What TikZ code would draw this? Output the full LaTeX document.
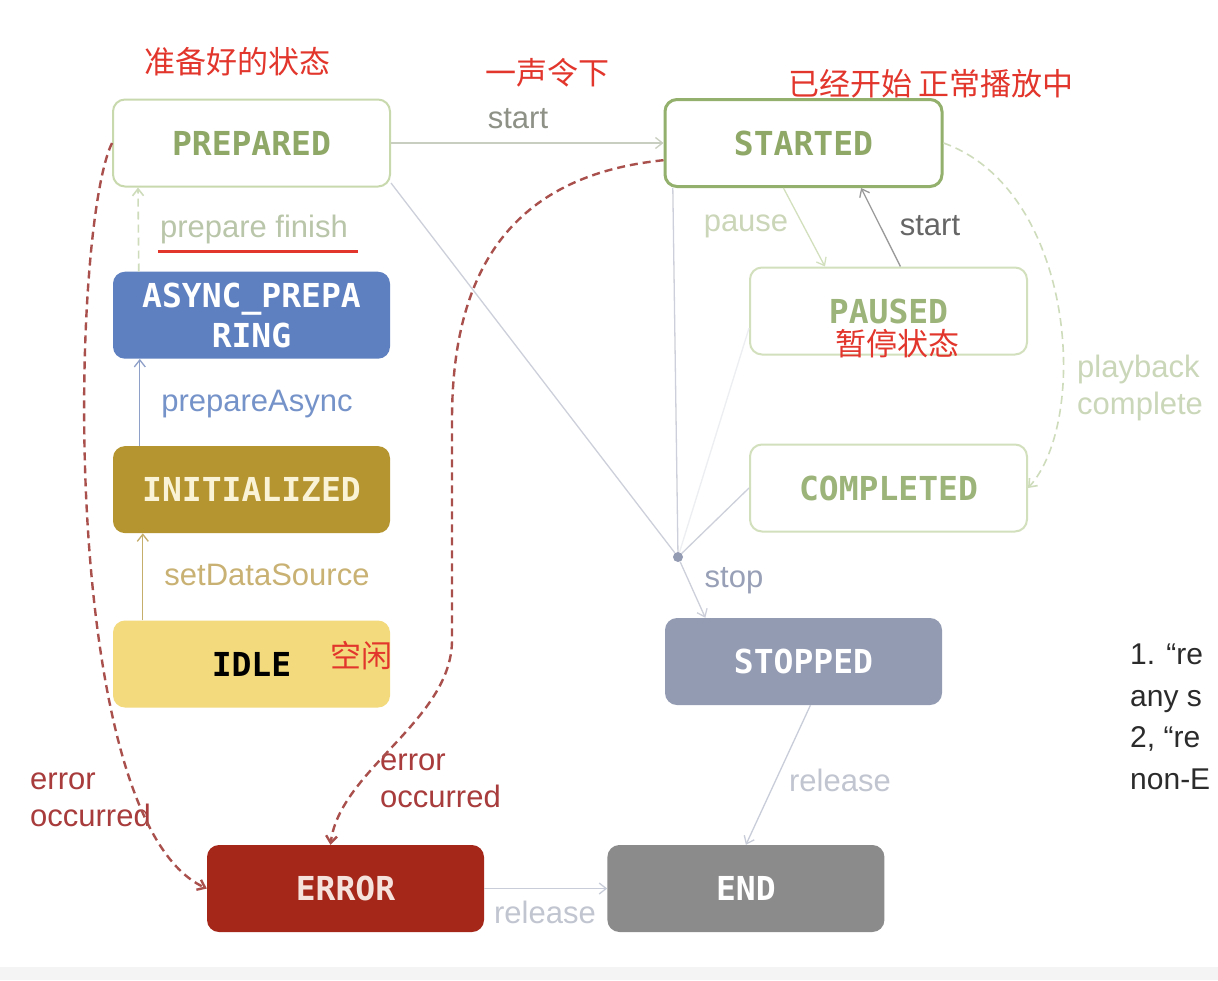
\documentclass[tikz,border=0pt]{standalone}
\usepackage{fontspec}
\usepackage{xcolor}
\usepackage{tikz}
\usetikzlibrary{arrows.meta,positioning}
\setmainfont{Liberation Sans}
\newfontfamily\monofnt{DejaVu Sans Mono}
\newfontfamily\cnfnt{Noto Sans CJK SC}
\definecolor{prepbd}{HTML}{C9D9AE}
\definecolor{prepfg}{HTML}{8FA867}
\definecolor{startbd}{HTML}{93B06C}
\definecolor{pausebd}{HTML}{D3E0BE}
\definecolor{pausefg}{HTML}{9CB379}
\definecolor{asyncbg}{HTML}{5E80C0}
\definecolor{initbg}{HTML}{B5952F}
\definecolor{initfg}{HTML}{FBF3D6}
\definecolor{idlebg}{HTML}{F3DA7C}
\definecolor{stopbg}{HTML}{939BB3}
\definecolor{errbg}{HTML}{A4271A}
\definecolor{errfg}{HTML}{F6E2DC}
\definecolor{endbg}{HTML}{8B8B8B}
\definecolor{cnred}{HTML}{E2352C}
\definecolor{errdash}{HTML}{A9504D}
\definecolor{errtxt}{HTML}{A83B3B}
\definecolor{dashgreen}{HTML}{CFDCBC}
\definecolor{lngrey}{HTML}{CDD0DA}
\definecolor{lnfaint}{HTML}{ECEEF1}
\definecolor{lnstart}{HTML}{C9CFC0}
\definecolor{lnrel}{HTML}{C8CDD9}
\definecolor{asyncarr}{HTML}{8FA0C8}
\definecolor{initarr}{HTML}{C5AD6B}
\definecolor{notetxt}{HTML}{2B2B2B}

\begin{document}
\begin{tikzpicture}[x=1pt,y=-1pt,
  st/.style={rounded corners=12pt,minimum width=277pt,minimum height=87pt,
             inner sep=0pt,align=center,font=\monofnt\bfseries\fontsize{33}{40}\selectfont},
  gst/.style={st,fill=white,line width=2pt},
  lb/.style={inner sep=0pt,font=\fontsize{31}{37}\selectfont},
  cn/.style={inner sep=0pt,text=cnred,font=\cnfnt\fontsize{31}{34}\selectfont},
  a/.style={-{Straight Barb[length=7pt,width=11pt]},line width=1.3pt},
  dsh/.style={dash pattern=on 8pt off 5pt}
]
\fill[white] (0,0) rectangle (1218,980);
\useasboundingbox (0,0) rectangle (1218,980);
\clip (0,0) rectangle (1218,980);
\fill[gray!9] (0,967) rectangle (1218,980);

\node[gst,draw=prepbd,text=prepfg] (prepared) at (251.5,143) {PREPARED};
\node[st,fill=asyncbg,text=white,below=84pt of prepared] (async) {ASYNC\_PREPA\\RING};
\node[st,fill=initbg,text=initfg,below=87pt of async] (init) {INITIALIZED};
\node[st,fill=idlebg,text=black,below=87pt of init] (idle) {IDLE};
\node[gst,draw=startbd,text=prepfg,line width=3pt] (started) at (803.5,143) {STARTED};
\node[gst,draw=pausebd,text=pausefg] (paused) at (888.5,311) {PAUSED};
\node[gst,draw=pausebd,text=pausefg,below=88pt of paused] (completed) {COMPLETED};
\node[st,fill=stopbg,text=white] (stopped) at (803.5,661.5) {STOPPED};
\node[st,fill=errbg,text=errfg] (error) at (345.5,888.5) {ERROR};
\node[st,fill=endbg,text=white,right=123pt of error] (end) {END};
\node[circle,fill=stopbg,inner sep=0pt,minimum size=10pt] (junc) at (678,557) {};

\node[cn] (cnready) at (237,62) {准备好的状态};
\node[cn] (cngo) at (547,73) {一声令下};
\node[cn] (cnplay) at (931,84) {已经开始\ 正常播放中};
\node[cn] (cnpause) at (897,344) {暂停状态};
\node[cn] (cnidle) at (361,656) {空闲};

\node[lb,text=lnstart!70!black] (lbstart) at (518,119) {start};
\node[lb,text=dashgreen!90!black] (lbfinish) at (254,229) {prepare finish};
\draw[cnred,line width=2.5pt] ([yshift=-8pt,xshift=-2pt]lbfinish.south west) -- ([yshift=-8pt,xshift=10pt]lbfinish.south east);
\node[lb,text=asyncbg!85!white] (lbasync) at (257,404) {prepareAsync};
\node[lb,text=initarr!95!white] (lbsource) at (267,575) {setDataSource};
\node[lb,text=pausebd!90!gray] (lbpause) at (746,226) {pause};
\node[lb,text=black!60] (lbresume) at (930,226) {start};
\node[lb,text=dashgreen!95!gray,align=left,anchor=west] (lbplay) at (1077,388) {playback\\complete};
\node[lb,text=stopbg!95!white] (lbstop) at (734,581) {stop};
\node[lb,text=lnrel!90!gray] (lbrelA) at (840,780) {release};
\node[lb,text=lnrel!90!gray] (lbrelB) at (545,912) {release};
\node[lb,text=errtxt,align=left,anchor=west] (lberrA) at (30,800) {error\\occurred};
\node[lb,text=errtxt,align=left,anchor=west] (lberrB) at (380,781) {error\\occurred};
\node[lb,text=notetxt,align=left,anchor=west,font=\fontsize{30}{41.5}\selectfont]
  (note) at (1130,717) {1. “re\\any s\\2, “re\\non-E};

\draw[a,draw=lnstart] (prepared) -- (started);
\foreach \s/\c in {prepared.-16/lngrey, started.199/lngrey, paused.187/lnfaint, completed.west/lngrey}
  {\draw[draw=\c,line width=1.3pt] (\s) -- (junc);}
\draw[a,draw=lngrey] (junc) -- (stopped.156);
\draw[a,draw=pausebd] (started.246) -- (paused.145);
\draw[a,draw=black!40] (paused.75) -- (started.-38);
\draw[a,dsh,draw=dashgreen,line width=1.6pt] (started.east) .. controls (1075,190) and (1090,420) .. (completed.east);
\draw[a,dsh,draw=dashgreen,line width=1.6pt] ([xshift=26pt]async.north west) -- ([xshift=26pt]prepared.south west);
\draw[a,draw=asyncarr] ([xshift=27pt]init.north west) -- ([xshift=27pt]async.south west);
\draw[a,draw=initarr] ([xshift=30pt]idle.north west) -- ([xshift=30pt]init.south west);
\draw[a,dsh,draw=errdash,line width=2.4pt] (prepared.west) .. controls (70,230) and (58,820) .. (error.west);
\draw[a,dsh,draw=errdash,line width=2.4pt] (started.187) .. controls (520,175) and (452,260) .. (452,420)
  -- (452,640) .. controls (452,720) and (340,770) .. (error.109);
\draw[a,draw=lnrel] (error) -- (end);
\draw[a,draw=lnrel] (stopped.279) -- (end.north);
\end{tikzpicture}
\end{document}
